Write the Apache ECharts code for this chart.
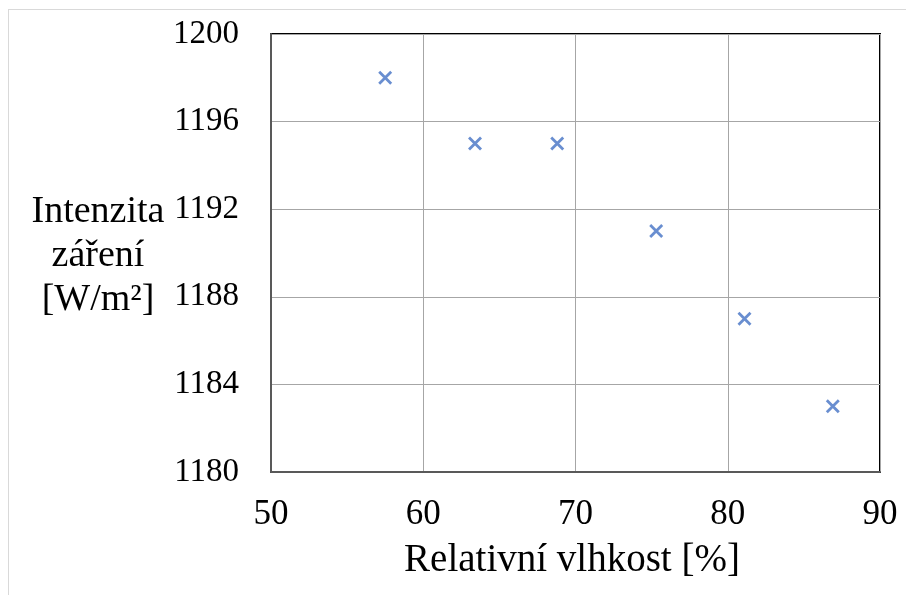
<!DOCTYPE html>
<html><head><meta charset="utf-8">
<script src="https://cdn.jsdelivr.net/npm/echarts@6/dist/echarts.min.js"></script>
<style>html,body{margin:0;padding:0;background:#fff}#c{width:906px;height:595px}</style>
</head><body><div id="c"></div>
<script>
const humidity = [57.5, 63.4, 68.8, 75.3, 81.1, 86.9];
const irradiance = [1198, 1195, 1195, 1191, 1187, 1183];
const xTitle = 'Relativní vlhkost [%]';
const yTitle = 'Intenzita\nzáření\n[W/m²]';

const chart = echarts.init(document.getElementById('c'), null, {renderer: 'canvas'});
const font = '"Liberation Serif", "Times New Roman", serif';
const G = {left: 271, top: 34, width: 609, height: 438};
chart.setOption({
  animation: false,
  backgroundColor: '#fff',
  grid: {left: G.left, top: G.top, width: G.width, height: G.height, show: true, borderColor: '#000', borderWidth: 2, backgroundColor: 'transparent'},
  xAxis: {
    type: 'value', min: 50, max: 90, interval: 10,
    axisLine: {show: true, lineStyle: {color: '#595959', width: 2}},
    axisTick: {show: false},
    splitLine: {show: true, lineStyle: {color: '#a6a6a6', width: 1}},
    axisLabel: {fontFamily: font, fontSize: 35, color: '#000', margin: 25}
  },
  yAxis: {
    type: 'value', min: 1180, max: 1200, interval: 4,
    axisLine: {show: true, lineStyle: {color: '#595959', width: 2}},
    axisTick: {show: false},
    splitLine: {show: true, lineStyle: {color: '#a6a6a6', width: 1}},
    axisLabel: {fontFamily: font, fontSize: 33, color: '#000', margin: 32, formatter: v => String(v)}
  },
  graphic: [
    {type: 'line', shape: {x1: 8, y1: 9.5, x2: 906, y2: 9.5}, style: {stroke: '#d9d9d9', lineWidth: 1}},
    {type: 'line', shape: {x1: 8.5, y1: 9, x2: 8.5, y2: 595}, style: {stroke: '#d9d9d9', lineWidth: 1}},
    {type: 'text', x: 98, y: 256, style: {text: yTitle, font: '38px ' + font, fill: '#000', align: 'center', verticalAlign: 'middle', lineHeight: 44}},
    {type: 'text', x: 572, y: 561, style: {text: xTitle, font: '39px ' + font, fill: '#000', align: 'center', verticalAlign: 'middle'}}
  ],
  series: [{
    type: 'scatter',
    data: humidity.map((h, i) => [h, irradiance[i]]),
    symbol: 'path://M0,0 L10,10 M10,0 L0,10',
    symbolSize: 12,
    itemStyle: {color: 'none', borderColor: '#4472C4', borderWidth: 2.8}
  }]
});
</script></body></html>
